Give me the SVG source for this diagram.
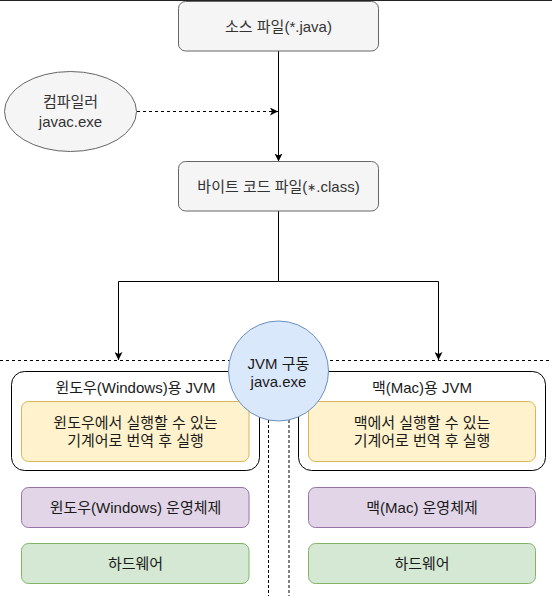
<svg xmlns="http://www.w3.org/2000/svg" width="552" height="596" viewBox="0 0 552 596">
<style>
text{font-family:"Liberation Sans","Noto Sans CJK KR",sans-serif;font-size:15px;fill:#1a1a1a;text-anchor:middle;dominant-baseline:central}
.gray{fill:#f5f5f5;stroke:#666666;stroke-width:1}
.gray-t{fill:#333333}
.blue{fill:#dae8fc;stroke:#6c8ebf;stroke-width:1}
.yel{fill:#fff2cc;stroke:#d6b656;stroke-width:1}
.pur{fill:#e1d5e7;stroke:#9673a6;stroke-width:1}
.grn{fill:#d5e8d4;stroke:#82b366;stroke-width:1}
.cont{fill:#ffffff;stroke:#000000;stroke-width:1}
.conn{fill:none;stroke:#000000;stroke-width:1}
.dash{stroke-dasharray:3 3}
.dot{stroke-dasharray:3 2}
</style>
<defs>
<marker id="arr" viewBox="0 0 10 10" refX="10" refY="5" markerWidth="8" markerHeight="8" markerUnits="userSpaceOnUse" orient="auto">
<path d="M0,0 L10,5 L0,10 L2.5,5 Z" fill="#000000"/>
</marker>
</defs>
<rect width="552" height="596" fill="#ffffff"/>
<line x1="0" y1="0.5" x2="552" y2="0.5" stroke="#222222" stroke-width="1"/>

<g id="connectors">
<path class="conn" d="M278.5 51 V161.5" marker-end="url(#arr)"/>
<path class="conn dash" d="M137 111.5 H278" marker-end="url(#arr)"/>
<path class="conn" d="M278.5 211 V281.5 H118.5 V360" marker-end="url(#arr)"/>
<path class="conn" d="M278.5 281.5 H438.5 V360" marker-end="url(#arr)"/>
<path class="conn dash" d="M0 360.5 H552"/>
<path class="conn dot" d="M268.5 420 V596"/>
<path class="conn dot" d="M289 420 V596"/>
</g>

<g id="source">
<rect class="gray" x="178.5" y="1.5" width="200" height="49.5" rx="7"/>
<text class="gray-t" x="278.5" y="26.5">소스 파일(*.java)</text>
</g>

<g id="compiler">
<ellipse class="gray" cx="70.5" cy="111.5" rx="66" ry="40"/>
<text class="gray-t" x="70.5" y="101.5">컴파일러</text>
<text class="gray-t" x="70.5" y="121.5">javac.exe</text>
</g>

<g id="bytecode">
<rect class="gray" x="178.5" y="161.5" width="200" height="49.5" rx="7"/>
<text class="gray-t" x="278.5" y="186.5">바이트 코드 파일(<tspan font-size="11">∗</tspan>.class)</text>
</g>

<g id="win-jvm">
<rect class="cont" x="11.5" y="371.5" width="248" height="99" rx="13"/>
<text x="135.5" y="387">윈도우(Windows)용 JVM</text>
</g>
<g id="win-translate">
<rect class="yel" x="21.5" y="401.5" width="227.5" height="60" rx="7"/>
<text x="135.5" y="422">윈도우에서 실행할 수 있는</text>
<text x="135.5" y="440">기계어로 번역 후 실행</text>
</g>
<g id="win-os">
<rect class="pur" x="21.5" y="487.5" width="227.5" height="40" rx="7"/>
<text x="135.5" y="507.5">윈도우(Windows) 운영체제</text>
</g>
<g id="win-hw">
<rect class="grn" x="21.5" y="543.5" width="227.5" height="40" rx="7"/>
<text x="135.5" y="563.5">하드웨어</text>
</g>

<g id="mac-jvm">
<rect class="cont" x="298.5" y="371.5" width="247" height="99" rx="13"/>
<text x="422" y="387">맥(Mac)용 JVM</text>
</g>
<g id="mac-translate">
<rect class="yel" x="308.5" y="401.5" width="227" height="60" rx="7"/>
<text x="422" y="422">맥에서 실행할 수 있는</text>
<text x="422" y="440">기계어로 번역 후 실행</text>
</g>
<g id="mac-os">
<rect class="pur" x="308.5" y="487.5" width="227" height="40" rx="7"/>
<text x="422" y="507.5">맥(Mac) 운영체제</text>
</g>
<g id="mac-hw">
<rect class="grn" x="308.5" y="543.5" width="227" height="40" rx="7"/>
<text x="422" y="563.5">하드웨어</text>
</g>

<g id="jvm-run">
<circle class="blue" cx="278.5" cy="371" r="50"/>
<text x="278.5" y="363">JVM 구동</text>
<text x="278.5" y="381">java.exe</text>
</g>
</svg>
